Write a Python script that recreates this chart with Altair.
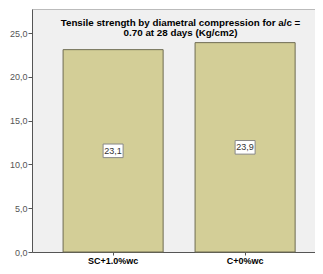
import altair as alt
import pandas as pd

categories = ["SC+1.0%wc", "C+0%wc"]
values = [23.1, 23.9]
title_lines = ["Tensile strength by diametral compression for a/c =", "0.70 at 28 days (Kg/cm2)"]
y_ticks = [0, 5, 10, 15, 20, 25]

df = pd.DataFrame({"cat": categories, "val": values})
df["mid"] = df["val"] / 2
df["lab"] = df["val"].map(lambda v: f"{v:.1f}".replace(".", ","))

FONT = "Liberation Sans"

x = alt.X("cat:N", sort=categories, title=None,
          scale=alt.Scale(paddingInner=0.242, paddingOuter=0.193, align=0.61),
          axis=alt.Axis(labelAngle=0, labelFontWeight="bold", labelFontSize=9,
                        labelColor="#000", labelFont=FONT, domainColor="#555",
                        tickColor="#555", tickSize=3, labelPadding=1))
yscale = alt.Scale(domain=[0, 27.74], nice=False)

bars = alt.Chart(df).mark_bar(color="#d3ce97", stroke="#6e6c52", strokeWidth=1).encode(
    x=x,
    y=alt.Y("val:Q", scale=yscale, title=None,
            axis=alt.Axis(values=y_ticks, grid=False, labelExpr="replace(format(datum.value, '.1f'), '.', ',')",
                          labelFontSize=9, labelColor="#555", labelFont=FONT,
                          domainColor="#555", tickColor="#555", tickSize=4,
                          labelPadding=1, minExtent=24, maxExtent=24)),
)

boxes = alt.Chart(df).mark_point(
    shape="M-1,-0.68L1,-0.68L1,0.68L-1,0.68Z", filled=True, fill="white",
    stroke="#888", strokeWidth=1, opacity=1, size=400,
).encode(x=x, y=alt.Y("mid:Q", scale=yscale))

texts = alt.Chart(df).mark_text(fontSize=9, font=FONT, color="#333").encode(
    x=x, y=alt.Y("mid:Q", scale=yscale), text="lab:N")

chart = alt.layer(bars, boxes, texts).properties(
    width=283, height=243,
    padding={"left": 0, "top": 1, "right": 0, "bottom": 0},
    background="white",
    title=alt.TitleParams(text=title_lines, fontSize=9.8, fontWeight="bold", font=FONT,
                          color="#000", anchor="middle", offset=-29, lineHeight=10.5, dx=7),
).configure_view(fill="#f0f0f0", stroke="#bbb")

chart.save("out.html", embed_options={"renderer": "svg", "actions": False})
